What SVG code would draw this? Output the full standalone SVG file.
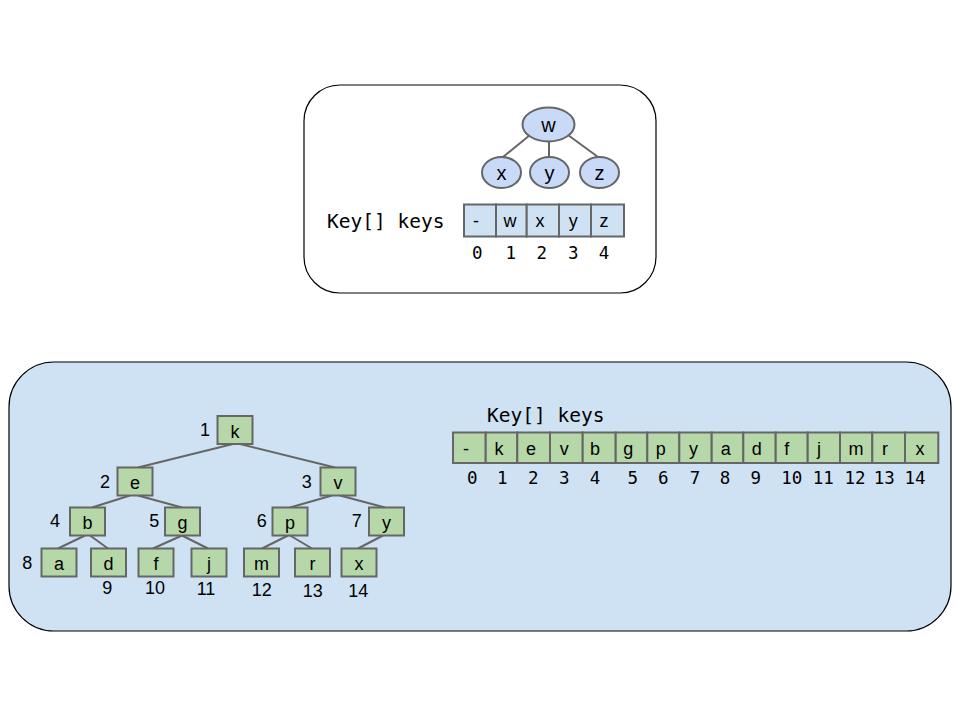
<svg xmlns="http://www.w3.org/2000/svg" width="960" height="720" viewBox="0 0 960 720">
<style>
.panel{stroke:#000;stroke-width:1.2}
.edge{stroke:#666;stroke-width:2;fill:none}
.node{fill:#b6d7a8;stroke:#666;stroke-width:2}
.ell{fill:#c9daf8;stroke:#666;stroke-width:2}
.cellb{fill:#cfe2f3;stroke:#666;stroke-width:2}
.cellg{fill:#b6d7a8;stroke:#666;stroke-width:2}
.lbl{font-family:"Liberation Sans",Arial,sans-serif;font-size:18px;fill:#000;text-anchor:middle}
.big{font-family:"Liberation Sans",Arial,sans-serif;font-size:20px;fill:#000;text-anchor:middle}
.num{font-family:"Liberation Sans",Arial,sans-serif;font-size:18px;fill:#000;text-anchor:middle}
.mono{font-family:"DejaVu Sans Mono",monospace;font-size:19.5px;fill:#000}
.idx{font-family:"DejaVu Sans Mono",monospace;font-size:17.5px;fill:#000;text-anchor:middle}
</style>
<rect width="960" height="720" fill="#fff"/>
<g id="top-panel">
<rect class="panel" x="304" y="85" width="352" height="208" rx="36" fill="#fff"/>
</g>
<g id="bottom-panel">
<rect class="panel" x="9" y="362" width="942" height="269" rx="45" fill="#cfe2f3"/>
</g>
<g id="connectors">
<line class="edge" x1="530" y1="135" x2="503" y2="157"/>
<line class="edge" x1="549" y1="141" x2="549" y2="157"/>
<line class="edge" x1="568" y1="135" x2="598" y2="157"/>
<line class="edge" x1="233" y1="444" x2="138" y2="467.5"/>
<line class="edge" x1="240" y1="444" x2="335" y2="467.5"/>
<line class="edge" x1="130" y1="495.5" x2="92" y2="507.5"/>
<line class="edge" x1="138" y1="495.5" x2="182" y2="507.5"/>
<line class="edge" x1="332" y1="495.5" x2="290" y2="507.5"/>
<line class="edge" x1="340" y1="495.5" x2="385" y2="507.5"/>
<line class="edge" x1="85" y1="535.5" x2="58" y2="548.5"/>
<line class="edge" x1="90" y1="535.5" x2="108" y2="548.5"/>
<line class="edge" x1="182" y1="535.5" x2="153" y2="548.5"/>
<line class="edge" x1="182" y1="535.5" x2="208" y2="548.5"/>
<line class="edge" x1="288" y1="535.5" x2="262" y2="548.5"/>
<line class="edge" x1="290" y1="535.5" x2="312" y2="548.5"/>
<line class="edge" x1="383" y1="535.5" x2="358" y2="548.5"/>
</g>
<g id="heap-w"><ellipse class="ell" cx="548.5" cy="124.5" rx="26" ry="17"/><text class="big" x="548.5" y="131.5">w</text></g>
<g id="heap-x"><ellipse class="ell" cx="501.5" cy="172.5" rx="19.5" ry="15.5"/><text class="big" x="501.5" y="180">x</text></g>
<g id="heap-y"><ellipse class="ell" cx="549.5" cy="172.5" rx="19.5" ry="15.5"/><text class="big" x="549.5" y="180">y</text></g>
<g id="heap-z"><ellipse class="ell" cx="599.5" cy="172.5" rx="19.5" ry="15.5"/><text class="big" x="599.5" y="180">z</text></g>
<g id="top-array">
<text class="mono" x="327" y="228">Key[] keys</text>
<rect class="cellb" x="464" y="204.5" width="32" height="32"/>
<rect class="cellb" x="496" y="204.5" width="30.7" height="32"/>
<rect class="cellb" x="526.7" y="204.5" width="32.3" height="32"/>
<rect class="cellb" x="559" y="204.5" width="32" height="32"/>
<rect class="cellb" x="591" y="204.5" width="33" height="32"/>
<text class="lbl" x="476" y="227">-</text>
<text class="lbl" x="510" y="227">w</text>
<text class="lbl" x="540" y="227">x</text>
<text class="lbl" x="573.3" y="227">y</text>
<text class="lbl" x="604" y="227">z</text>
<text class="idx" x="477.3" y="258.5">0</text>
<text class="idx" x="510.7" y="258.5">1</text>
<text class="idx" x="541.7" y="258.5">2</text>
<text class="idx" x="573.3" y="258.5">3</text>
<text class="idx" x="604" y="258.5">4</text>
</g>
<g id="node-k"><rect class="node" x="217.5" y="416" width="35" height="28"/><text class="lbl" x="235" y="437.5">k</text><text class="num" x="205" y="436">1</text></g>
<g id="node-e"><rect class="node" x="117.5" y="467.5" width="35" height="28"/><text class="lbl" x="135" y="489">e</text><text class="num" x="105" y="487.5">2</text></g>
<g id="node-v"><rect class="node" x="320.5" y="467.5" width="35" height="28"/><text class="lbl" x="338" y="489">v</text><text class="num" x="306.7" y="487.5">3</text></g>
<g id="node-b"><rect class="node" x="70" y="507.5" width="35" height="28"/><text class="lbl" x="87.5" y="529">b</text><text class="num" x="55" y="527">4</text></g>
<g id="node-g"><rect class="node" x="165" y="507.5" width="35" height="28"/><text class="lbl" x="182.5" y="529">g</text><text class="num" x="154.3" y="527">5</text></g>
<g id="node-p"><rect class="node" x="272.5" y="507.5" width="35" height="28"/><text class="lbl" x="290" y="529">p</text><text class="num" x="261.7" y="527">6</text></g>
<g id="node-y"><rect class="node" x="369" y="507.5" width="35" height="28"/><text class="lbl" x="386.5" y="529">y</text><text class="num" x="356.7" y="527">7</text></g>
<g id="node-a"><rect class="node" x="41.5" y="548.5" width="35" height="28"/><text class="lbl" x="59" y="570">a</text><text class="num" x="27.3" y="568.5">8</text></g>
<g id="node-d"><rect class="node" x="91" y="548.5" width="35" height="28"/><text class="lbl" x="108.5" y="570">d</text><text class="num" x="107.3" y="593.5">9</text></g>
<g id="node-f"><rect class="node" x="138.5" y="548.5" width="35" height="28"/><text class="lbl" x="156" y="570">f</text><text class="num" x="155" y="593.5">10</text></g>
<g id="node-j"><rect class="node" x="191.5" y="548.5" width="35" height="28"/><text class="lbl" x="209" y="570">j</text><text class="num" x="206" y="594.5">11</text></g>
<g id="node-m"><rect class="node" x="244" y="548.5" width="35" height="28"/><text class="lbl" x="261.5" y="570">m</text><text class="num" x="261.7" y="595.5">12</text></g>
<g id="node-r"><rect class="node" x="295" y="548.5" width="35" height="28"/><text class="lbl" x="312.5" y="570">r</text><text class="num" x="312.7" y="596.5">13</text></g>
<g id="node-x"><rect class="node" x="341.5" y="548.5" width="35" height="28"/><text class="lbl" x="359" y="570">x</text><text class="num" x="358.3" y="596.5">14</text></g>
<g id="bottom-array">
<text class="mono" x="487" y="422">Key[] keys</text>
<rect class="cellg" x="453" y="432.5" width="32.7" height="30.5"/>
<rect class="cellg" x="485.7" y="432.5" width="31.6" height="30.5"/>
<rect class="cellg" x="517.3" y="432.5" width="32.7" height="30.5"/>
<rect class="cellg" x="550" y="432.5" width="32.7" height="30.5"/>
<rect class="cellg" x="582.7" y="432.5" width="33" height="30.5"/>
<rect class="cellg" x="615.7" y="432.5" width="31.6" height="30.5"/>
<rect class="cellg" x="647.3" y="432.5" width="32" height="30.5"/>
<rect class="cellg" x="679.3" y="432.5" width="32.4" height="30.5"/>
<rect class="cellg" x="711.7" y="432.5" width="31.6" height="30.5"/>
<rect class="cellg" x="743.3" y="432.5" width="32.4" height="30.5"/>
<rect class="cellg" x="775.7" y="432.5" width="32" height="30.5"/>
<rect class="cellg" x="807.7" y="432.5" width="32.3" height="30.5"/>
<rect class="cellg" x="840" y="432.5" width="32.3" height="30.5"/>
<rect class="cellg" x="872.3" y="432.5" width="32.7" height="30.5"/>
<rect class="cellg" x="905" y="432.5" width="33.3" height="30.5"/>
<text class="lbl" x="466" y="455">-</text>
<text class="lbl" x="499" y="455">k</text>
<text class="lbl" x="531" y="455">e</text>
<text class="lbl" x="564.3" y="455">v</text>
<text class="lbl" x="595" y="455">b</text>
<text class="lbl" x="628.3" y="455">g</text>
<text class="lbl" x="660.7" y="455">p</text>
<text class="lbl" x="693.5" y="455">y</text>
<text class="lbl" x="725.7" y="455">a</text>
<text class="lbl" x="756.7" y="455">d</text>
<text class="lbl" x="786.7" y="455">f</text>
<text class="lbl" x="819" y="455">j</text>
<text class="lbl" x="856" y="455">m</text>
<text class="lbl" x="885" y="455">r</text>
<text class="lbl" x="920" y="455">x</text>
<text class="idx" x="472.3" y="484.3">0</text>
<text class="idx" x="502.3" y="484.3">1</text>
<text class="idx" x="533.3" y="484.3">2</text>
<text class="idx" x="564.3" y="484.3">3</text>
<text class="idx" x="595" y="484.3">4</text>
<text class="idx" x="632.7" y="484.3">5</text>
<text class="idx" x="663.3" y="484.3">6</text>
<text class="idx" x="695" y="484.3">7</text>
<text class="idx" x="725" y="484.3">8</text>
<text class="idx" x="755.7" y="484.3">9</text>
<text class="idx" x="791.7" y="484.3">10</text>
<text class="idx" x="823.3" y="484.3">11</text>
<text class="idx" x="855" y="484.3">12</text>
<text class="idx" x="884.3" y="484.3">13</text>
<text class="idx" x="915" y="484.3">14</text>
</g>
</svg>
